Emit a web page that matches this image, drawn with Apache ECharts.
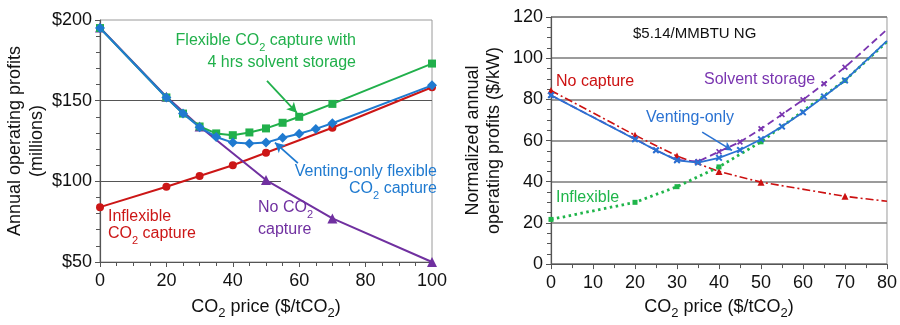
<!DOCTYPE html>
<html>
<head>
<meta charset="utf-8">
<script src="https://cdn.jsdelivr.net/npm/echarts@6/dist/echarts.min.js"></script>
<style>
html,body{margin:0;padding:0;background:#fff;}
#c{width:900px;height:325px;}
</style>
</head>
<body>
<div id="c"></div>
<script>
// ---- Left chart data (CO2 price $/tCO2 -> annual operating profits, $ millions)
const leftFlexStorageX = [0, 20, 25, 30, 35, 40, 45, 50, 55, 60, 70, 100];
const leftFlexStorageY = [195, 152, 142, 134, 129.7, 128.6, 130.3, 132.8, 136.3, 140, 148, 173];
const leftVentingX = [0, 20, 25, 30, 35, 40, 45, 50, 55, 60, 65, 70, 100];
const leftVentingY = [195, 152, 142, 133.5, 127.5, 124, 123.5, 124, 127, 129.5, 132.5, 136, 159.5];
const leftInflexX = [0, 20, 30, 40, 50, 70, 100];
const leftInflexY = [84, 96.6, 103.3, 110, 117.7, 133.2, 158.3];
const leftNoCaptureX = [0, 20, 30, 50, 70, 100];
const leftNoCaptureY = [195.3, 152.5, 134, 100.8, 77, 50];
const leftYTicks = [50, 100, 150, 200];

// ---- Right chart data (CO2 price -> normalized annual operating profits, $/kW)
const rightNoCaptureX = [0, 20, 30, 40, 50, 70, 80];
const rightNoCaptureY = [84.3, 62.6, 52.5, 45, 39.8, 32.9, 30.5];
const rightVentingX = [0, 20, 25, 30, 35, 40, 45, 50, 55, 60, 65, 70, 80];
const rightVentingY = [82, 60.6, 55.3, 50.4, 49.3, 51.6, 55.4, 60.6, 66.8, 73.7, 81.4, 89.2, 108.4];
const rightSolventX = [0, 20, 25, 30, 35, 40, 45, 50, 55, 60, 65, 70, 80];
const rightSolventY = [82, 60.8, 55.3, 50.6, 49.8, 54.6, 59.3, 65.7, 72.6, 79.8, 87.6, 95.6, 113.9];
const rightInflexX = [0, 20, 30, 40, 50, 70, 80];
const rightInflexY = [21.7, 30, 37.6, 47.2, 59.4, 89.2, 108];

function pairs(xs, ys, noMarkerLast) {
  return xs.map((x, i) => {
    const d = { value: [x, ys[i]] };
    if (noMarkerLast && i === xs.length - 1) d.symbol = 'none';
    return d;
  });
}

const FONT = '"Liberation Sans", Arial, sans-serif';
const GREEN = '#21b04b', BLUE = '#1f7ad0', RED = '#cc1616', PURPLE = '#7030a0';
const RBLUE = '#2a72d2', RGREEN = '#1fb54a', RRED = '#cc1111', RPURPLE = '#7a35b0';

const XSHAPE = 'path://M2,0L5,3L8,0L10,2L7,5L10,8L8,10L5,7L2,10L0,8L3,5L0,2Z';

function sub(color, size) {
  return {
    a: { fontSize: size, fontFamily: FONT, color: color, fill: color, lineHeight: size + 4, verticalAlign: 'top' },
    s: { fontSize: Math.round(size * 0.7), fontFamily: FONT, color: color, fill: color, lineHeight: Math.round(size * 0.7), padding: [Math.round(size * 0.55), 0, 0, 0], verticalAlign: 'bottom' }
  };
}

const chart = echarts.init(document.getElementById('c'), null, { renderer: 'canvas' });

const axisLineStyle = { color: '#555', width: 1.2 };

const option = {
  animation: false,
  backgroundColor: '#fff',
  textStyle: { fontFamily: FONT },
  grid: [
    { left: 100, top: 20, width: 332, height: 242, show: true, borderColor: '#9a9a9a', borderWidth: 1 },
    { left: 551, top: 17, width: 336, height: 249, show: true, borderColor: '#9a9a9a', borderWidth: 1 }
  ],
  xAxis: [
    {
      gridIndex: 0, type: 'value', min: 0, max: 100, interval: 20,
      axisLine: { show: true, lineStyle: axisLineStyle },
      axisTick: { show: true, length: 5, lineStyle: { color: '#555' } },
      minorTick: { show: true, splitNumber: 4, length: 4, lineStyle: { color: '#555' } },
      splitLine: { show: false },
      axisLabel: { fontSize: 18, color: '#111', margin: 10, fontFamily: FONT },
      name: '{a|CO}{s|2}{a| price ($/tCO}{s|2}{a|)}',
      nameLocation: 'middle', nameGap: 36,
      nameTextStyle: { rich: sub('#111', 18) }
    },
    {
      gridIndex: 1, type: 'value', min: 0, max: 80, interval: 10,
      axisLine: { show: true, lineStyle: axisLineStyle },
      axisTick: { show: true, length: 5, lineStyle: { color: '#555' } },
      minorTick: { show: true, splitNumber: 2, length: 4, lineStyle: { color: '#555' } },
      splitLine: { show: false },
      axisLabel: { fontSize: 18, color: '#111', margin: 10, fontFamily: FONT },
      name: '{a|CO}{s|2}{a| price ($/tCO}{s|2}{a|)}',
      nameLocation: 'middle', nameGap: 32,
      nameTextStyle: { rich: sub('#111', 18) }
    }
  ],
  yAxis: [
    {
      gridIndex: 0, type: 'value', min: leftYTicks[0], max: leftYTicks[leftYTicks.length - 1], interval: 50,
      axisLine: { show: true, lineStyle: axisLineStyle },
      axisTick: { show: true, length: 5, lineStyle: { color: '#555' } },
      minorTick: { show: true, splitNumber: 5, length: 4, lineStyle: { color: '#555' } },
      splitLine: { show: false },
      axisLabel: { fontSize: 18, color: '#111', margin: 8, fontFamily: FONT, formatter: v => '$' + v },
      name: 'Annual operating profits\n(millions)',
      nameLocation: 'middle', nameGap: 52,
      nameTextStyle: { fontSize: 18, color: '#111', lineHeight: 22, fontFamily: FONT }
    },
    {
      gridIndex: 1, type: 'value', min: 0, max: 120, interval: 20,
      axisLine: { show: true, lineStyle: axisLineStyle },
      axisTick: { show: true, length: 5, lineStyle: { color: '#555' } },
      minorTick: { show: true, splitNumber: 4, length: 4, lineStyle: { color: '#555' } },
      splitLine: { show: true, lineStyle: { color: '#7a7a7a', width: 1.6 } },
      axisLabel: { fontSize: 18, color: '#111', margin: 8, fontFamily: FONT },
      name: 'Normalized annual\noperating profits ($/kW)',
      nameLocation: 'middle', nameGap: 46,
      nameTextStyle: { fontSize: 18, color: '#111', lineHeight: 21, fontFamily: FONT }
    }
  ],
  series: [
    {
      name: 'Inflexible CO2 capture', type: 'line', xAxisIndex: 0, yAxisIndex: 0,
      data: pairs(leftInflexX, leftInflexY),
      symbol: 'circle', symbolSize: 8,
      lineStyle: { color: RED, width: 2 }, itemStyle: { color: RED },
      z: 3,
      markLine: {
        silent: true, symbol: ['none', 'none'], label: { show: false },
        lineStyle: { color: '#555', width: 1, type: 'solid' },
        data: [
          [{ coord: [0, 150] }, { coord: [100, 150] }],
          [{ coord: [0, 100] }, { coord: [54.5, 100] }]
        ],
        z: 1
      }
    },
    {
      name: 'No CO2 capture', type: 'line', xAxisIndex: 0, yAxisIndex: 0,
      data: pairs(leftNoCaptureX, leftNoCaptureY),
      symbol: 'triangle', symbolSize: 10,
      lineStyle: { color: PURPLE, width: 2 }, itemStyle: { color: PURPLE }, z: 4
    },
    {
      name: 'Flexible with storage', type: 'line', xAxisIndex: 0, yAxisIndex: 0,
      data: pairs(leftFlexStorageX, leftFlexStorageY),
      symbol: 'rect', symbolSize: 8,
      lineStyle: { color: GREEN, width: 2 }, itemStyle: { color: GREEN }, z: 5,
      markLine: {
        silent: true, symbol: ['none', 'arrow'], symbolSize: [8, 10], label: { show: false },
        lineStyle: { color: GREEN, width: 1.8, type: 'solid' },
        data: [[{ coord: [50.3, 162.2] }, { coord: [59.3, 142.5] }]]
      }
    },
    {
      name: 'Venting-only flexible', type: 'line', xAxisIndex: 0, yAxisIndex: 0,
      data: pairs(leftVentingX, leftVentingY),
      symbol: 'diamond', symbolSize: 10,
      lineStyle: { color: BLUE, width: 2 }, itemStyle: { color: BLUE }, z: 6,
      markLine: {
        silent: true, symbol: ['none', 'arrow'], symbolSize: [8, 10], label: { show: false },
        lineStyle: { color: BLUE, width: 1.8, type: 'solid' },
        data: [[{ coord: [59.6, 111.3] }, { coord: [52.7, 124.0] }]]
      }
    },
    {
      name: 'No capture', type: 'line', xAxisIndex: 1, yAxisIndex: 1,
      data: pairs(rightNoCaptureX, rightNoCaptureY, true),
      symbol: 'triangle', symbolSize: 7,
      lineStyle: { color: RRED, width: 1.6, type: [8, 3, 2, 3] }, itemStyle: { color: RRED }, z: 3
    },
    {
      name: 'Inflexible', type: 'line', xAxisIndex: 1, yAxisIndex: 1,
      data: pairs(rightInflexX, rightInflexY, true),
      symbol: 'rect', symbolSize: 5,
      lineStyle: { color: RGREEN, width: 2.8, type: [2.5, 3.5] }, itemStyle: { color: RGREEN }, z: 4
    },
    {
      name: 'Solvent storage', type: 'line', xAxisIndex: 1, yAxisIndex: 1,
      data: pairs(rightSolventX, rightSolventY, true),
      symbol: XSHAPE, symbolSize: 6,
      lineStyle: { color: RPURPLE, width: 1.8, type: [7, 4] }, itemStyle: { color: RPURPLE }, z: 5
    },
    {
      name: 'Venting-only', type: 'line', xAxisIndex: 1, yAxisIndex: 1,
      data: pairs(rightVentingX, rightVentingY, true),
      symbol: XSHAPE, symbolSize: 7,
      lineStyle: { color: RBLUE, width: 1.8 }, itemStyle: { color: RBLUE }, z: 6,
      markLine: {
        silent: true, symbol: ['none', 'arrow'], symbolSize: [7, 9], label: { show: false },
        lineStyle: { color: RBLUE, width: 1.6, type: 'solid' },
        data: [[{ coord: [36, 64.1] }, { coord: [43.1, 55.2] }]]
      }
    }
  ],
  graphic: [
    { type: 'text', x: 356, y: 43, style: { text: '{a|Flexible CO}{s|2}{a| capture with}', rich: sub(GREEN, 16), fill: GREEN, align: 'right', verticalAlign: 'middle' }, z: 10 },
    { type: 'text', x: 356, y: 63, style: { text: '4 hrs solvent storage', fill: GREEN, font: '16px ' + FONT, align: 'right', verticalAlign: 'middle' }, z: 10 },
    { type: 'text', x: 437, y: 172, style: { text: 'Venting-only flexible', fill: BLUE, font: '16px ' + FONT, align: 'right', verticalAlign: 'middle' }, z: 10 },
    { type: 'text', x: 437, y: 191, style: { text: '{a|CO}{s|2}{a| capture}', rich: sub(BLUE, 16), fill: BLUE, align: 'right', verticalAlign: 'middle' }, z: 10 },
    { type: 'text', x: 108, y: 217, style: { text: 'Inflexible', fill: RED, font: '16px ' + FONT, align: 'left', verticalAlign: 'middle' }, z: 10 },
    { type: 'text', x: 108, y: 236, style: { text: '{a|CO}{s|2}{a| capture}', rich: sub(RED, 16), fill: RED, align: 'left', verticalAlign: 'middle' }, z: 10 },
    { type: 'text', x: 258, y: 210, style: { text: '{a|No CO}{s|2}', rich: sub(PURPLE, 16), fill: PURPLE, align: 'left', verticalAlign: 'middle' }, z: 10 },
    { type: 'text', x: 258, y: 230, style: { text: 'capture', fill: PURPLE, font: '16px ' + FONT, align: 'left', verticalAlign: 'middle' }, z: 10 },
    { type: 'text', x: 633, y: 34, style: { text: '$5.14/MMBTU NG', fill: '#111', font: '15px ' + FONT, align: 'left', verticalAlign: 'middle' }, z: 10 },
    { type: 'text', x: 556, y: 82, style: { text: 'No capture', fill: RRED, font: '16px ' + FONT, align: 'left', verticalAlign: 'middle' }, z: 10 },
    { type: 'text', x: 704, y: 80, style: { text: 'Solvent storage', fill: RPURPLE, font: '16px ' + FONT, align: 'left', verticalAlign: 'middle' }, z: 10 },
    { type: 'text', x: 646, y: 118, style: { text: 'Venting-only', fill: RBLUE, font: '16px ' + FONT, align: 'left', verticalAlign: 'middle' }, z: 10 },
    { type: 'text', x: 556, y: 198, style: { text: 'Inflexible', fill: RGREEN, font: '16px ' + FONT, align: 'left', verticalAlign: 'middle' }, z: 10 }
  ]
};
chart.setOption(option);
</script>
</body>
</html>
